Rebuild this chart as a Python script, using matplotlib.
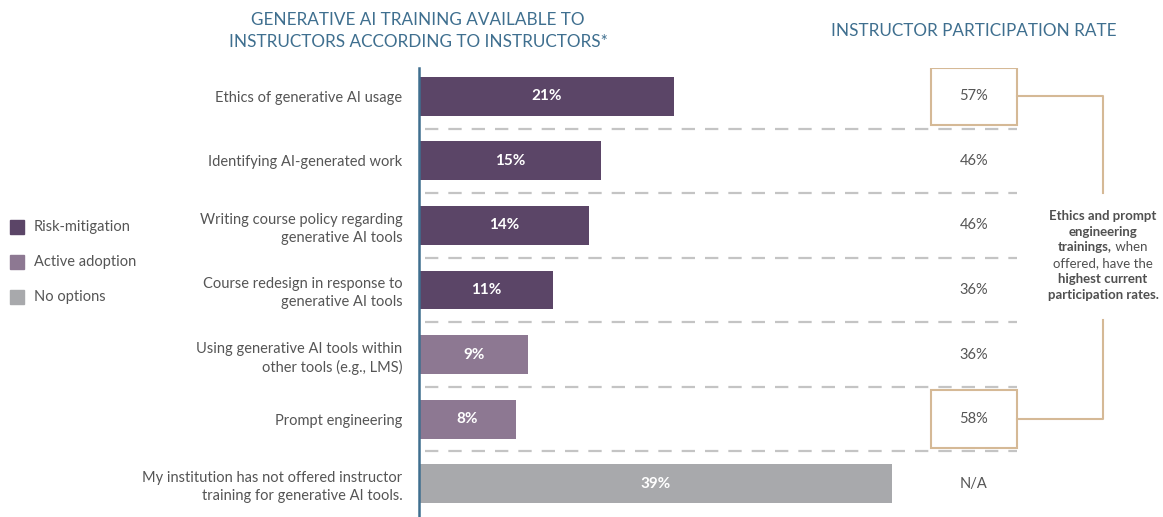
import matplotlib
matplotlib.use("Agg")
import matplotlib.pyplot as plt
from matplotlib.patches import Rectangle

# data
categories = [
    "Ethics of generative AI usage",
    "Identifying AI-generated work",
    "Writing course policy regarding\ngenerative AI tools",
    "Course redesign in response to\ngenerative AI tools",
    "Using generative AI tools within\nother tools (e.g., LMS)",
    "Prompt engineering",
    "My institution has not offered instructor\ntraining for generative AI tools.",
]
available = [21, 15, 14, 11, 9, 8, 39]
groups = ["Risk-mitigation", "Risk-mitigation", "Risk-mitigation", "Risk-mitigation",
          "Active adoption", "Active adoption", "No options"]
participation = ["57%", "46%", "46%", "36%", "36%", "58%", "N/A"]
highlighted = [0, 5]

group_colors = {"Risk-mitigation": "#5b4567", "Active adoption": "#8d7892", "No options": "#a8a9ac"}
title_color = "#3f6f8f"
text_color = "#555555"
tan = "#d5b996"

plt.rcParams["font.family"] = ["Lato", "DejaVu Sans"]

fig = plt.figure(figsize=(11.63, 5.17), dpi=100)
W, H = 1163, 517
px_per_pct = 12.14
x0 = 419
ax = fig.add_axes([x0 / W, 0, (W - x0) / W, 449 / H])
ax.set_xlim(0, (W - x0) / px_per_pct)
ax.set_ylim(6 + 33 / 64, -28 / 64)

def dx(px):
    # pixel column -> data x
    return (px - x0) / px_per_pct

ypos = list(range(len(categories)))
colors = [group_colors[g] for g in groups]
ax.barh(ypos, available, height=0.6, color=colors, zorder=2)
for y, v in zip(ypos, available):
    ax.text(v / 2, y, f"{v}%", ha="center", va="center", color="white",
            fontsize=11, fontweight="bold", zorder=3)

# dashed separators
for y in ypos[:-1]:
    ax.plot([dx(425), dx(1017)], [y + 0.5, y + 0.5], color="#c4c4c4", lw=1.6,
            dashes=(6, 4.5), zorder=1, clip_on=False)

# participation column
for y, p in zip(ypos, participation):
    ax.text(dx(974), y, p, ha="center", va="center", color=text_color, fontsize=10.5)
for y in highlighted:
    ax.add_patch(Rectangle((dx(931), y - 0.445), dx(1017) - dx(931), 0.89,
                           fill=False, edgecolor=tan, lw=1.5, zorder=4))

# connector lines
cx = dx(1103)
ax.plot([dx(1017), cx, cx], [highlighted[0], highlighted[0], 1.5], color=tan, lw=1.5, clip_on=False)
ax.plot([cx, cx, dx(1017)], [3.47, highlighted[1], highlighted[1]], color=tan, lw=1.5, clip_on=False)

# annotation with mixed weights
note = [
    [("Ethics and prompt", "bold")],
    [("engineering", "bold")],
    [("trainings,", "bold"), (" when", "normal")],
    [("offered, have the", "normal")],
    [("highest current", "bold")],
    [("participation rates.", "bold")],
]
fig.canvas.draw()
renderer = fig.canvas.get_renderer()
for i, parts in enumerate(note):
    y = 1.85 + i * 0.245
    texts = [ax.text(0, y, s, fontsize=9.5, fontweight=w, color="#505050",
                     ha="left", va="center", clip_on=False) for s, w in parts]
    widths = [t.get_window_extent(renderer).width / px_per_pct for t in texts]
    start = cx - sum(widths) / 2
    for t, w in zip(texts, widths):
        t.set_x(start)
        start += w

ax.set_yticks(ypos)
ax.set_yticklabels(categories, fontsize=10.5, color=text_color, linespacing=1.35)
for lbl in ax.get_yticklabels():
    lbl.set_horizontalalignment("right")
ax.tick_params(axis="y", length=0, pad=12)
ax.set_xticks([])
for s in ["top", "right", "bottom"]:
    ax.spines[s].set_visible(False)
ax.spines["left"].set_color(title_color)
ax.spines["left"].set_linewidth(1.8)

# titles
fig.text(418 / W, 1 - 20 / H, "GENERATIVE AI TRAINING AVAILABLE TO", ha="center", va="center",
         color=title_color, fontsize=12.3)
fig.text(418 / W, 1 - 42 / H, "INSTRUCTORS ACCORDING TO INSTRUCTORS*", ha="center", va="center",
         color=title_color, fontsize=12.3)
fig.text(974 / W, 1 - 31 / H, "INSTRUCTOR PARTICIPATION RATE", ha="center", va="center",
         color=title_color, fontsize=12.3)

# legend
for i, (g, c) in enumerate(group_colors.items()):
    yc = 1 - (227 + 35 * i) / H
    fig.patches.append(Rectangle((10 / W, yc - 7 / H), 14 / W, 14 / H, color=c,
                                 transform=fig.transFigure, figure=fig))
    fig.text(34 / W, yc, g, ha="left", va="center", color=text_color, fontsize=10.5)

fig.savefig("out.png", dpi=100)
